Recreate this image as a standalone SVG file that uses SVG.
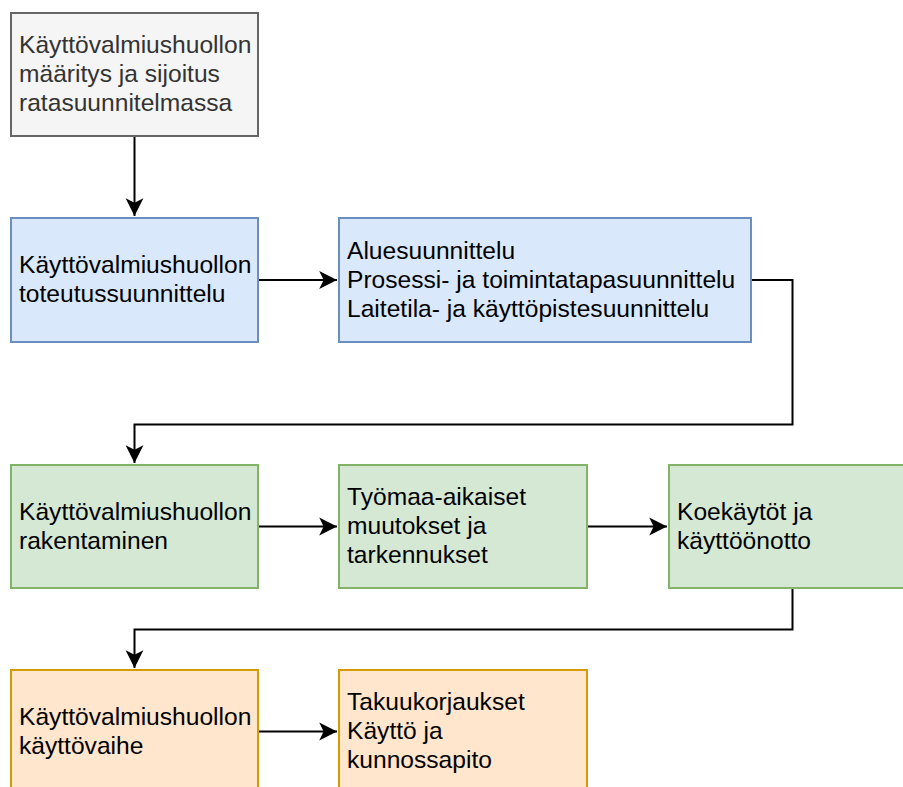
<svg xmlns="http://www.w3.org/2000/svg" width="903" height="787" viewBox="0 0 903 787">
  <style>
    .box { stroke-width: 2; }
    .grey { fill: #f5f5f5; stroke: #666666; }
    .blue { fill: #dae8fc; stroke: #6c8ebf; }
    .green { fill: #d5e8d4; stroke: #82b366; }
    .orange { fill: #ffe6cc; stroke: #d79b00; }
    .label { font-family: "Liberation Sans", Arial, sans-serif; font-size: 24.6px; fill: #000000; }
    .label.dim { fill: #333333; }
    .edge { fill: none; stroke: #000000; stroke-width: 2; }
  </style>
  <defs>
    <marker id="arrow" markerUnits="userSpaceOnUse" markerWidth="20" markerHeight="20" viewBox="-17 -9 18 18" refX="0" refY="0" orient="auto">
      <path d="M0,0 L-16,-8 L-12,0 L-16,8 Z" fill="#000000"/>
    </marker>
  </defs>
  <rect width="903" height="787" fill="#ffffff"/>

  <g id="edges">
    <path class="edge" d="M134.5,136 V216" marker-end="url(#arrow)"/>
    <path class="edge" d="M258,280 H337" marker-end="url(#arrow)"/>
    <path class="edge" d="M751,280 H792.5 V424.5 H134.5 V463" marker-end="url(#arrow)"/>
    <path class="edge" d="M258,526.5 H337" marker-end="url(#arrow)"/>
    <path class="edge" d="M587,526.5 H667" marker-end="url(#arrow)"/>
    <path class="edge" d="M792.5,588 V629.5 H134.5 V668" marker-end="url(#arrow)"/>
    <path class="edge" d="M258,731.5 H337" marker-end="url(#arrow)"/>
  </g>

  <g id="node-maaritys">
    <rect class="box grey" x="11" y="13" width="247" height="123"/>
    <text class="label dim" x="19" y="53">Käyttövalmiushuollon</text>
    <text class="label dim" x="19" y="82">määritys ja sijoitus</text>
    <text class="label dim" x="19" y="111">ratasuunnitelmassa</text>
  </g>

  <g id="node-toteutussuunnittelu">
    <rect class="box blue" x="11" y="218" width="247" height="124"/>
    <text class="label" x="19" y="273">Käyttövalmiushuollon</text>
    <text class="label" x="19" y="302">toteutussuunnittelu</text>
  </g>

  <g id="node-suunnittelu">
    <rect class="box blue" x="339" y="218" width="412" height="124"/>
    <text class="label" x="347" y="258.5">Aluesuunnittelu</text>
    <text class="label" x="347" y="287.5">Prosessi- ja toimintatapasuunnittelu</text>
    <text class="label" x="347" y="316.5">Laitetila- ja käyttöpistesuunnittelu</text>
  </g>

  <g id="node-rakentaminen">
    <rect class="box green" x="11" y="465" width="247" height="123"/>
    <text class="label" x="19" y="519.5">Käyttövalmiushuollon</text>
    <text class="label" x="19" y="548.5">rakentaminen</text>
  </g>

  <g id="node-muutokset">
    <rect class="box green" x="339" y="465" width="248" height="123"/>
    <text class="label" x="347" y="505">Työmaa-aikaiset</text>
    <text class="label" x="347" y="534">muutokset ja</text>
    <text class="label" x="347" y="563">tarkennukset</text>
  </g>

  <g id="node-koekaytot">
    <rect class="box green" x="669" y="465" width="247" height="123"/>
    <text class="label" x="677" y="519.5">Koekäytöt ja</text>
    <text class="label" x="677" y="548.5">käyttöönotto</text>
  </g>

  <g id="node-kayttovaihe">
    <rect class="box orange" x="11" y="670" width="247" height="123"/>
    <text class="label" x="19" y="724.5">Käyttövalmiushuollon</text>
    <text class="label" x="19" y="753.5">käyttövaihe</text>
  </g>

  <g id="node-kunnossapito">
    <rect class="box orange" x="339" y="670" width="248" height="123"/>
    <text class="label" x="347" y="710">Takuukorjaukset</text>
    <text class="label" x="347" y="739">Käyttö ja</text>
    <text class="label" x="347" y="768">kunnossapito</text>
  </g>
</svg>
